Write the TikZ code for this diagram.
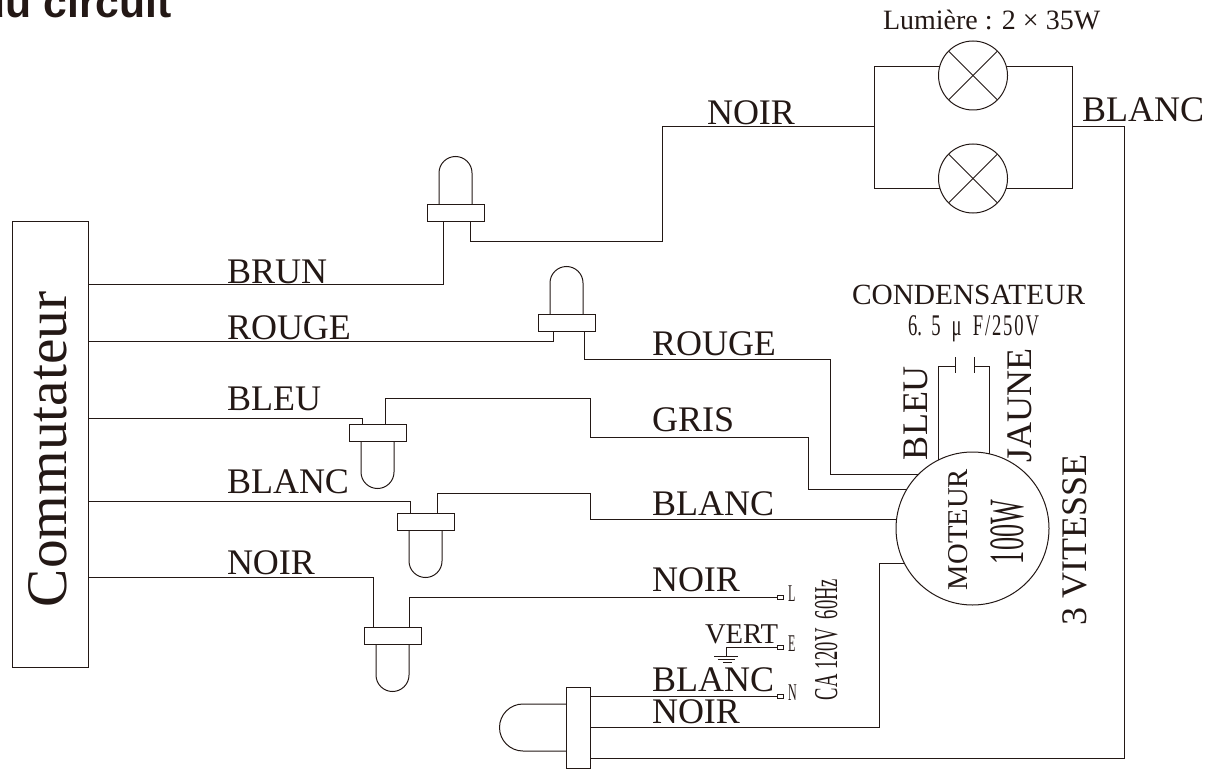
\documentclass[tikz,border=0pt]{standalone}
\usepackage{fontspec}
\usepackage{graphicx}
\setmainfont{Liberation Serif}
\newfontfamily\headfont{Liberation Sans}
\definecolor{ink}{HTML}{231815}
\newcommand{\pxfont}[1]{\fontsize{#1}{#1}\selectfont}
\newcommand{\cond}[2]{\scalebox{#1}[1]{#2}}
\tikzset{
  x=0.75pt,y=-0.75pt,
  wire/.style={draw=ink,line width=0.75pt,line join=miter},
  lab/.style={inner sep=0pt,outer sep=0pt,anchor=base west,text=ink,font=\pxfont{27}},
  vlab/.style={lab,rotate=90},
  mid/.style={lab,font=\pxfont{21}},
  tiny/.style={lab,font=\pxfont{18}},
  plugbox/.style={draw=ink,fill=white,line width=0.75pt,inner sep=0pt,outer sep=0pt,anchor=north west},
  term/.style={draw=ink,fill=white,line width=0.5pt,inner sep=0pt,outer sep=0pt,minimum width=4.5pt,minimum height=3pt,anchor=west},
  lampc/.style={circle,draw=ink,fill=white,line width=0.75pt,inner sep=0pt,outer sep=0pt,minimum size=51.75pt}
}
\begin{document}
\begin{tikzpicture}
\useasboundingbox (0,0) rectangle (1220,770);
\begin{scope}
\clip (0,0) rectangle (1220,770);
\node[inner sep=0pt,anchor=base east,font=\headfont\bfseries\pxfont{32},text=ink] (title) at (172,18) {du circuit};
\end{scope}

% switch
\node[plugbox,minimum width=57pt,minimum height=334.5pt] (sw) at (12,221) {};
\node[vlab,font=\pxfont{43}] (swt) at (66,607) {Commutateur};

% lamps
\node[lampc] (la) at (973,75.5) {};
\node[lampc] (lb) at (973,178.5) {};
\foreach \l in {la,lb}{
  \draw[wire] (\l.north west) -- (\l.south east);
  \draw[wire] (\l.north east) -- (\l.south west);
}
\coordinate (fl) at (874,127);
\coordinate (fr) at (1072,127);
\draw[wire] (939.6,67) -- (874,67) -- (874,188) -- (939.8,188);
\draw[wire] (1006.4,67) -- (1072,67) -- (1072,188) -- (1006.2,188);

% motor
\node[circle,draw=ink,fill=white,line width=0.75pt,inner sep=0pt,outer sep=0pt,minimum size=114.75pt] (mot) at (972.5,528.5) {};

% plugs
\newcommand{\plugup}[3]{% name, left x, top y
  \draw[wire] (#2+12,#3) -- (#2+12,#3-31) arc[start angle=180,end angle=360,radius=16.5] -- (#2+45,#3);
  \node[plugbox,minimum width=42.75pt,minimum height=13pt] (#1) at (#2,#3) {};
}
\newcommand{\plugdn}[3]{%
  \draw[wire] (#2+12,#3+17) -- (#2+12,#3+48) arc[start angle=180,end angle=0,radius=16.5] -- (#2+45,#3+17);
  \node[plugbox,minimum width=42.75pt,minimum height=13pt] (#1) at (#2,#3) {};
}
\plugup{pa}{427}{204}
\plugup{pb}{538}{314}
\plugdn{pc}{349}{424}
\plugdn{pd}{397}{513}
\plugdn{pe}{364}{627}
\draw[wire] (566,704) -- (523,704) arc[start angle=270,end angle=90,radius=23.5] -- (566,751);
\node[plugbox,minimum width=18pt,minimum height=60.75pt] (pf) at (566,687) {};

% wires
\draw[wire] (88,284) -- (443,284) -- (443,221);
\draw[wire] (470.5,221) -- (470.5,241) -- (662,241) -- (662,127) -- (fl);
\draw[wire] (fr) -- (1124,127) -- (1124,758) -- (590,758);
\draw[wire] (88,341) -- (553.5,341) -- (553.5,332);
\draw[wire] (584,332) -- (584,359.5) -- (830,359.5) -- (830,474) -- (918,474);
\draw[wire] (88,418) -- (362,418) -- (362,424);
\draw[wire] (385,424) -- (385,398) -- (590,398) -- (590,437) -- (808,437) -- (808,489) -- (906.5,489);
\draw[wire] (88,501) -- (410,501) -- (410,513);
\draw[wire] (437,513) -- (437,493) -- (590,493) -- (590,519) -- (896,519);
\draw[wire] (88,577.5) -- (373,577.5) -- (373,627);
\draw[wire] (590,727) -- (879,727) -- (879,563) -- (904,563);

% terminals
\node[term] (tl) at (777,597) {};
\node[term] (te) at (777,647) {};
\node[term] (tn) at (777,696) {};
\draw[wire] (409,627) -- (409,597) -- (tl.west);
\draw[wire] (590,696) -- (tn.west);
\draw[wire] (te.west) -- (726,647) -- (726,656);
\draw[wire] (714,656) -- (738,656);
\draw[wire] (717.5,659) -- (734.5,659);
\draw[wire] (723,662) -- (732,662);

% capacitor
\draw[wire] (938,460) -- (938,366) -- (955,366);
\draw[wire] (955,357) -- (955,373);
\draw[wire] (974,357) -- (974,373);
\draw[wire] (974,366) -- (989,366) -- (989,454);

% labels
\node[lab] (l1) at (227,283) {BRUN};
\node[lab] (l2) at (227,339) {ROUGE};
\node[lab] (l3) at (227,410) {BLEU};
\node[lab] (l4) at (227,493) {BLANC};
\node[lab] (l5) at (227,574) {NOIR};
\node[lab] (l6) at (707,125) {NOIR};
\node[lab] (l7) at (1082,122) {BLANC};
\node[lab] (l8) at (652,355) {ROUGE};
\node[lab] (l9) at (652,431) {GRIS};
\node[lab] (l10) at (652,515) {BLANC};
\node[lab] (l11) at (652,591) {NOIR};
\node[lab] (l12) at (652,691) {BLANC};
\node[lab] (l13) at (652,723) {NOIR};
\node[mid,font=\pxfont{21.5}] (l14) at (705,643) {VERT};
\node[mid] (lum) at (883,30) {Lumière : 2 × 35W};
\node[mid,font=\pxfont{22}] (cap) at (852,304) {CONDENSATEUR};
\node[mid,font=\pxfont{22.5}] (capv) at (908,335) {\cond{.62}{6.\kern.5em 5\kern.6em μ\kern.6em F\kern.1em/\kern.1em 2\kern.1em 5\kern.1em 0\kern.1em V}};
\node[vlab] (v1) at (927,460) {BLEU};
\node[vlab] (v2) at (1031,462) {JAUNE};
\node[vlab] (v3) at (1086,625) {3 VITESSE};
\node[vlab,font=\pxfont{21.5}] (v4) at (967,590) {MOTEUR};
\node[vlab,font=\pxfont{37}] (v5) at (1023,564) {\cond{.53}{100W}};
\node[vlab,font=\pxfont{25}] (v6) at (837,700) {\cond{.557}{CA 120V\ \ 60Hz}};
\node[tiny] (tlL) at (788,601) {\cond{.5}{L}};
\node[tiny] (tlE) at (788,651) {\cond{.5}{E}};
\node[tiny] (tlN) at (788,700) {\cond{.5}{N}};
\end{tikzpicture}
\end{document}
